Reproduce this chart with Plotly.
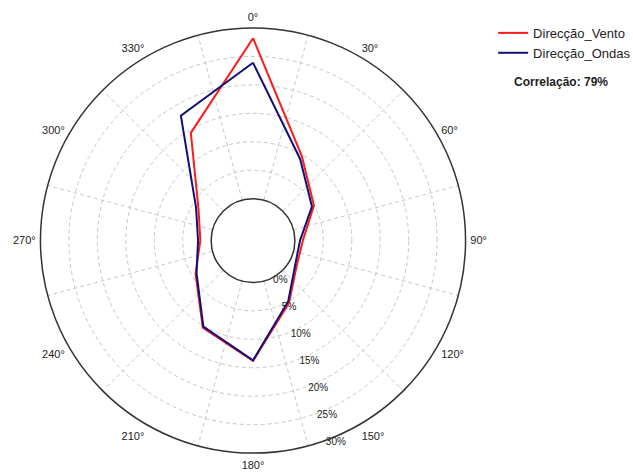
import plotly.graph_objects as go

# ---- data ----
directions = [0, 30, 60, 90, 120, 150, 180, 210, 240, 270, 300, 330]
vento = [28.2, 9.8, 5.0, 1.4, 1.5, 5.3, 13.8, 10.3, 4.3, 1.9, 3.7, 14.5]
ondas = [23.9, 9.2, 4.6, 0.9, 1.2, 5.0, 13.7, 10.1, 4.1, 2.3, 4.2, 18.0]
radial_ticks = [0, 5, 10, 15, 20, 25, 30]
radial_labels = [f"{v}%" for v in radial_ticks]
angle_labels = [f"{d}°" for d in directions]
grid_angles = [15, 45, 75, 105, 135, 165, 195, 225, 255, 285, 315, 345]
correlation_text = "Correlação: 79%"

# closed loops
theta_closed = directions + directions[:1]
vento_closed = vento + vento[:1]
ondas_closed = ondas + ondas[:1]

FONT = "Liberation Sans, Arial, sans-serif"
DOMAIN_X = [0.0632, 0.7362]
DOMAIN_Y = [0.0400, 0.9407]
HOLE = 0.197
RAXIS_ANGLE = -72
GRID_DASH = "4px,3px"

fig = go.Figure()
fig.add_trace(go.Scatterpolar(
    r=vento_closed, theta=theta_closed, mode="lines", name="Direcção_Vento",
    line=dict(color="#ff1a1a", width=2), subplot="polar"))
fig.add_trace(go.Scatterpolar(
    r=ondas_closed, theta=theta_closed, mode="lines", name="Direcção_Ondas",
    line=dict(color="#10107a", width=2), subplot="polar"))
# empty trace to activate the label-only polar
fig.add_trace(go.Scatterpolar(r=[], theta=[], showlegend=False, subplot="polar2",
                              hoverinfo="skip"))

fig.update_layout(
    width=633, height=472,
    margin=dict(l=0, r=0, t=0, b=0, autoexpand=False),
    paper_bgcolor="white",
    font=dict(family=FONT, color="#222222"),
    polar=dict(
        domain=dict(x=DOMAIN_X, y=DOMAIN_Y),
        hole=HOLE,
        bgcolor="white",
        radialaxis=dict(
            range=[0, 30], tickvals=radial_ticks, ticktext=radial_labels,
            showline=False, ticks="", angle=RAXIS_ANGLE, tickangle=RAXIS_ANGLE,
            side="counterclockwise",
            gridcolor="#c8c8c8", griddash=GRID_DASH, gridwidth=1,
            tickfont=dict(size=10, color="#222222", family=FONT),
            layer="below traces",
        ),
        angularaxis=dict(
            rotation=90, direction="clockwise",
            tickvals=grid_angles, showticklabels=False, ticks="",
            gridcolor="#c8c8c8", griddash=GRID_DASH, gridwidth=1,
            showline=True, linecolor="#333333", linewidth=1.5,
            layer="below traces",
        ),
    ),
    polar2=dict(
        domain=dict(x=DOMAIN_X, y=DOMAIN_Y),
        hole=HOLE,
        bgcolor="rgba(0,0,0,0)",
        radialaxis=dict(visible=False, range=[0, 30]),
        angularaxis=dict(
            rotation=90, direction="clockwise",
            tickvals=directions, ticktext=angle_labels,
            ticks="outside", ticklen=2, tickcolor="rgba(0,0,0,0)",
            showgrid=False, showline=False,
            tickfont=dict(size=11, color="#222222", family=FONT),
        ),
    ),
    legend=dict(
        x=0.779, y=0.962, xanchor="left", yanchor="top",
        font=dict(size=13, family=FONT, color="#222222"),
        bgcolor="rgba(0,0,0,0)", tracegroupgap=0,
    ),
    showlegend=True,
    annotations=[dict(
        text=f"<b>{correlation_text}</b>", x=0.809, y=0.826,
        xref="paper", yref="paper", xanchor="left", yanchor="middle",
        showarrow=False, font=dict(size=12, family=FONT, color="#222222"),
    )],
)

fig.write_html("out.html")
